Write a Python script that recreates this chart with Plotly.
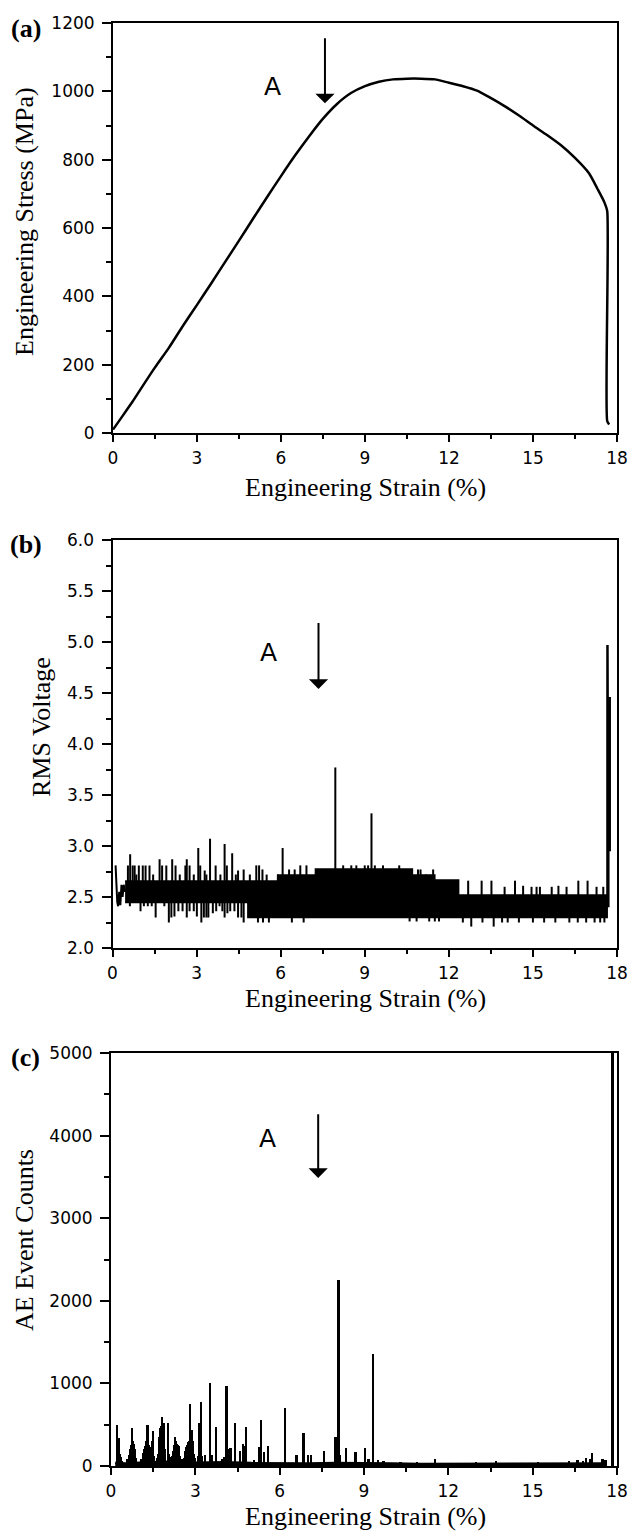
import plotly.graph_objects as go

# ---------------- (a) stress-strain curve ----------------
strain_a = [0, 0.3, 0.7, 1.0, 1.5, 2.0, 2.5, 3.0, 3.5, 4.0, 4.5, 5.0, 5.5, 6.0, 6.5, 7.0, 7.5,
            8.0, 8.5, 9.0, 9.5, 10.0, 10.5, 11.0, 11.5, 12.0, 12.5, 13.0, 13.5, 14.0, 14.5,
            15.0, 15.5, 16.0, 16.5, 17.0, 17.3, 17.55, 17.65, 17.65, 17.72]
stress_a = [10, 45, 92, 130, 192, 250, 314, 375, 437, 500, 563, 627, 690, 752, 812, 868, 920,
            963, 995, 1015, 1028, 1035, 1037, 1037, 1035, 1025, 1015, 1002, 980, 956, 929,
            900, 872, 842, 805, 760, 715, 675, 650, 35, 25]

# ---------------- (b) RMS voltage ----------------
rms_band_edges = [0.45, 4.83, 5.9, 7.24, 10.7, 11.5, 12.35, 17.65]
rms_band_lo = [2.445, 2.30, 2.30, 2.30, 2.30, 2.30, 2.30]
rms_band_hi = [2.657, 2.657, 2.716, 2.775, 2.716, 2.667, 2.52]
rms_start_x = [0.11, 0.13, 0.17, 0.20, 0.24, 0.28, 0.32, 0.36, 0.40, 0.45]
rms_start_y = [2.81, 2.60, 2.45, 2.41, 2.55, 2.42, 2.62, 2.50, 2.62, 2.55]
rms_up_x = [0.55, 0.63, 0.72, 0.79, 0.85, 0.94, 1.08, 1.18, 1.32, 1.45, 1.68, 1.77, 1.92, 2.13,
            2.25, 2.40, 2.60, 2.65, 2.75, 2.90, 3.06, 3.13, 3.29, 3.35, 3.48, 3.68, 3.85, 4.00,
            4.08, 4.27, 4.40, 4.48, 4.68, 4.90, 5.13, 5.23, 5.35, 5.50, 5.90, 6.07, 6.30, 6.50,
            6.70, 6.92, 7.95, 8.23, 8.52, 8.70, 9.00, 9.12, 9.24, 9.36, 9.65, 10.23, 10.90,
            10.99, 11.18, 11.44, 12.69, 13.17, 13.52, 13.99, 14.36, 14.65, 14.95, 15.13, 15.25,
            15.67, 15.91, 16.20, 16.62, 16.95, 17.27, 17.51]
rms_up_top = [2.81, 2.92, 2.81, 2.81, 2.72, 2.81, 2.81, 2.81, 2.81, 2.72, 2.87, 2.81, 2.81, 2.87,
              2.81, 2.72, 2.81, 2.87, 2.81, 2.72, 2.98, 2.81, 2.76, 2.72, 3.07, 2.81, 2.72, 3.02,
              2.81, 2.93, 2.72, 2.76, 2.77, 2.72, 2.81, 2.81, 2.77, 2.72, 2.72, 2.98, 2.77, 2.77,
              2.81, 2.81, 3.77, 2.81, 2.81, 2.81, 2.81, 2.81, 3.32, 2.81, 2.81, 2.81, 2.77,
              2.77, 2.72, 2.77, 2.66, 2.66, 2.66, 2.60, 2.66, 2.61, 2.60, 2.60, 2.60,
              2.60, 2.61, 2.60, 2.66, 2.66, 2.60, 2.60]
rms_down_x = [0.62, 1.00, 1.12, 1.26, 1.40, 1.54, 1.85, 2.01, 2.10, 2.21, 2.35, 2.50, 2.65, 2.75,
              2.90, 3.01, 3.17, 3.26, 3.35, 3.42, 3.58, 3.70, 3.82, 3.92, 4.00, 4.10, 4.20, 4.35,
              4.48, 4.60, 4.68, 5.19, 5.37, 5.58, 6.40, 6.82, 10.60, 10.85, 11.30, 11.50, 11.65,
              12.50, 12.80, 13.20, 13.60, 13.90, 14.10, 14.50, 15.00, 15.40, 15.80, 16.30,
              16.60, 16.90, 17.20, 17.40, 17.55]
rms_down_bot = [2.41, 2.36, 2.41, 2.41, 2.41, 2.30, 2.41, 2.25, 2.30, 2.31, 2.36, 2.36, 2.30, 2.36,
                2.36, 2.31, 2.25, 2.30, 2.30, 2.30, 2.34, 2.36, 2.41, 2.36, 2.30, 2.34, 2.36, 2.36,
                2.30, 2.30, 2.25, 2.25, 2.25, 2.25, 2.25, 2.25, 2.26, 2.26, 2.26, 2.26, 2.26,
                2.25, 2.21, 2.25, 2.21, 2.25, 2.25, 2.25, 2.25, 2.25, 2.25, 2.25,
                2.25, 2.25, 2.25, 2.25, 2.25]
rms_tail_x = [17.66, 17.66, 17.69, 17.69, 17.74, 17.74]
rms_tail_y = [2.40, 4.97, 2.40, 2.96, 2.96, 4.46]

# ---------------- (c) AE event counts ----------------
ae_base_x = [0.15, 0.5, 1, 2, 3, 4, 5, 6, 7, 8, 9, 10, 11, 12, 13, 14, 15, 16, 17, 17.6]
ae_base_y = [40, 30, 40, 50, 40, 45, 35, 30, 30, 35, 35, 30, 25, 25, 25, 25, 25, 25, 30, 30]
ae_spike_x = [0.22, 0.25, 0.28, 0.31, 0.34, 0.38, 0.60, 0.65, 0.69, 0.72, 0.75, 0.78, 0.81, 0.84,
              0.87, 0.90, 1.10, 1.14, 1.17, 1.20, 1.23, 1.27, 1.31, 1.34, 1.36, 1.40, 1.43, 1.46,
              1.50, 1.53, 1.65, 1.70, 1.73, 1.76, 1.80, 1.83, 1.86, 1.90, 1.93, 2.03, 2.07, 2.11,
              2.18, 2.22, 2.25, 2.29, 2.32, 2.35, 2.39, 2.43, 2.47, 2.55, 2.62, 2.66, 2.70, 2.73,
              2.76, 2.79, 2.82, 2.85, 2.88, 2.91, 2.94, 2.98, 3.10, 3.15, 3.18, 3.21, 3.25, 3.35,
              3.53, 3.59, 3.74, 3.97, 4.05, 4.12, 4.18, 4.22, 4.26, 4.42, 4.59, 4.71, 4.76, 4.81,
              5.10, 5.27, 5.34, 5.46, 5.60, 6.19, 6.60, 6.86, 7.02, 7.13, 7.58, 7.99, 8.10, 8.16,
              8.37, 8.71, 9.04, 9.17, 9.32, 9.50, 9.70, 10.30, 10.90, 11.53, 12.40, 13.00, 13.70,
              14.30, 15.20, 15.90, 16.30, 16.60, 16.80, 16.90, 17.05, 17.12, 17.30, 17.50, 17.60,
              17.85]
ae_spike_y = [496, 250, 335, 150, 110, 60, 80, 130, 200, 250, 456, 300, 262, 200,
              160, 100, 90, 130, 160, 200, 240, 300, 496, 250, 200, 180, 230, 300,
              428, 120, 100, 150, 350, 456, 480, 590, 520, 516, 200, 523, 150, 110,
              120, 180, 250, 347, 300, 262, 250, 240, 120, 90, 100, 180, 230, 250,
              290, 300, 746, 350, 435, 300, 150, 100, 120, 516, 300, 770, 120, 130,
              1000, 130, 476, 90, 110, 970, 200, 180, 212, 523, 180, 262, 240, 476,
              70, 230, 563, 170, 240, 700, 130, 403, 130, 130, 180, 347, 2250, 130,
              212, 170, 212, 90, 1356, 70, 60, 50, 45, 90, 40, 45, 55,
              40, 45, 40, 55, 70, 60, 95, 80, 160, 40, 90, 70,
              5000]

W, H = 629, 1531
BLACK = "black"
TICKFONT = dict(family="DejaVu Sans", size=17, color=BLACK)
TITLEFONT = dict(family="Liberation Serif", size=26, color=BLACK)


def xdom(l, r):
    return [l / W, r / W]


def ydom(t, b):
    return [1 - b / H, 1 - t / H]


def axis_style(ticklen, minorlen, mdtick, standoff, **kw):
    d = dict(showline=True, linecolor=BLACK, linewidth=2, mirror=True, ticks="outside",
             ticklen=ticklen, tickwidth=2, tickcolor=BLACK, showgrid=False, zeroline=False,
             tickfont=TICKFONT, tickmode="linear", automargin=False,
             ticklabelstandoff=standoff, ticklabeloverflow="allow",
             minor=dict(ticks="outside", ticklen=minorlen, tickwidth=2, tickcolor=BLACK,
                        dtick=mdtick, showgrid=False))
    d.update(kw)
    return d


fig = go.Figure()

# (a)
fig.add_trace(go.Scatter(x=strain_a, y=stress_a, mode="lines",
                         line=dict(color=BLACK, width=2.5, shape="spline", smoothing=0.6),
                         xaxis="x", yaxis="y"))

# (b) band polygon built from the envelopes
poly_x, poly_y = [], []
for i in range(len(rms_band_hi)):
    poly_x += [rms_band_edges[i], rms_band_edges[i + 1]]
    poly_y += [rms_band_hi[i], rms_band_hi[i]]
for i in reversed(range(len(rms_band_lo))):
    poly_x += [rms_band_edges[i + 1], rms_band_edges[i]]
    poly_y += [rms_band_lo[i], rms_band_lo[i]]
fig.add_trace(go.Scatter(x=poly_x, y=poly_y, mode="lines", fill="toself", fillcolor=BLACK,
                         line=dict(color=BLACK, width=1.5), xaxis="x2", yaxis="y2"))
fig.add_trace(go.Scatter(x=rms_start_x, y=rms_start_y, mode="lines",
                         line=dict(color=BLACK, width=2), xaxis="x2", yaxis="y2"))
sx, sy = [], []
for x, t in zip(rms_up_x, rms_up_top):
    sx += [x, x, None]
    sy += [2.5, t, None]
for x, b in zip(rms_down_x, rms_down_bot):
    sx += [x, x, None]
    sy += [2.5, b, None]
fig.add_trace(go.Scatter(x=sx, y=sy, mode="lines", line=dict(color=BLACK, width=2),
                         xaxis="x2", yaxis="y2"))
fig.add_trace(go.Scatter(x=rms_tail_x, y=rms_tail_y, mode="lines",
                         line=dict(color=BLACK, width=2.5), xaxis="x2", yaxis="y2"))

# (c)
fig.add_trace(go.Scatter(x=ae_base_x, y=ae_base_y, mode="lines", fill="tozeroy",
                         fillcolor=BLACK, line=dict(color=BLACK, width=2.5),
                         xaxis="x3", yaxis="y3"))
fig.add_trace(go.Bar(x=ae_spike_x, y=ae_spike_y, width=0.07,
                     marker=dict(color=BLACK, line=dict(width=0)),
                     xaxis="x3", yaxis="y3"))

fig.update_layout(
    width=W, height=H, margin=dict(l=0, r=0, t=0, b=0, autoexpand=False),
    paper_bgcolor="white", plot_bgcolor="white", showlegend=False, bargap=0,
    xaxis=axis_style(7, 4, 1.5, 2, domain=xdom(113, 617), range=[0, 18], tick0=0, dtick=3, anchor="y"),
    yaxis=axis_style(9, 5, 100, 4, domain=ydom(23, 433), range=[0, 1200], tick0=0, dtick=200, anchor="x"),
    xaxis2=axis_style(7, 4, 1.5, 2, domain=xdom(112.5, 617), range=[0, 18], tick0=0, dtick=3, anchor="y2"),
    yaxis2=axis_style(9, 5, 0.25, 4, domain=ydom(540, 948), range=[2, 6], tick0=2, dtick=0.5,
                      tickformat=".1f", anchor="x2"),
    xaxis3=axis_style(7, 4, 1.5, 2, domain=xdom(111, 617), range=[0, 18], tick0=0, dtick=3, anchor="y3"),
    yaxis3=axis_style(9, 5, 500, 4, domain=ydom(1053, 1466), range=[0, 5000], tick0=0, dtick=1000,
                      anchor="x3"),
)

ann = []
for lab, yc in [("(a)", 28), ("(b)", 544), ("(c)", 1057)]:
    ann.append(dict(text="<b>%s</b>" % lab, x=26 / W, y=1 - yc / H, xref="paper", yref="paper",
                    showarrow=False, xanchor="center", yanchor="middle",
                    font=dict(family="Liberation Serif", size=26, color=BLACK)))
for yc in [487, 998, 1516]:
    ann.append(dict(text="Engineering Strain (%)", x=365 / W, y=1 - yc / H, xref="paper",
                    yref="paper", showarrow=False, xanchor="center", yanchor="middle",
                    font=TITLEFONT))
for txt, xc, yc in [("Engineering Stress (MPa)", 24, 222), ("RMS Voltage", 41, 727),
                    ("AE Event Counts", 24, 1240)]:
    ann.append(dict(text=txt, x=xc / W, y=1 - yc / H, xref="paper", yref="paper",
                    showarrow=False, xanchor="center", yanchor="middle", textangle=-90,
                    font=TITLEFONT))
for xa, ya, ax_, tip, tail, xr, yr in [(5.7, 1015, 7.57, 965, 1160, "x", "y"),
                                       (5.55, 4.9, 7.35, 4.54, 5.2, "x2", "y2"),
                                       (5.57, 3970, 7.37, 3487, 4277, "x3", "y3")]:
    ann.append(dict(text="A", x=xa, y=ya, xref=xr, yref=yr, showarrow=False,
                    font=dict(family="DejaVu Sans", size=25, color=BLACK)))
    ann.append(dict(text="", x=ax_, y=tip, ax=ax_, ay=tail, xref=xr, yref=yr,
                    axref=xr, ayref=yr, showarrow=True, arrowhead=1, arrowsize=1.6,
                    arrowwidth=2, arrowcolor=BLACK, standoff=0))
fig.update_layout(annotations=ann)

fig.write_html("out.html", config={"displayModeBar": False},
               post_script="document.body.style.margin='0px';document.body.style.padding='0px';")
